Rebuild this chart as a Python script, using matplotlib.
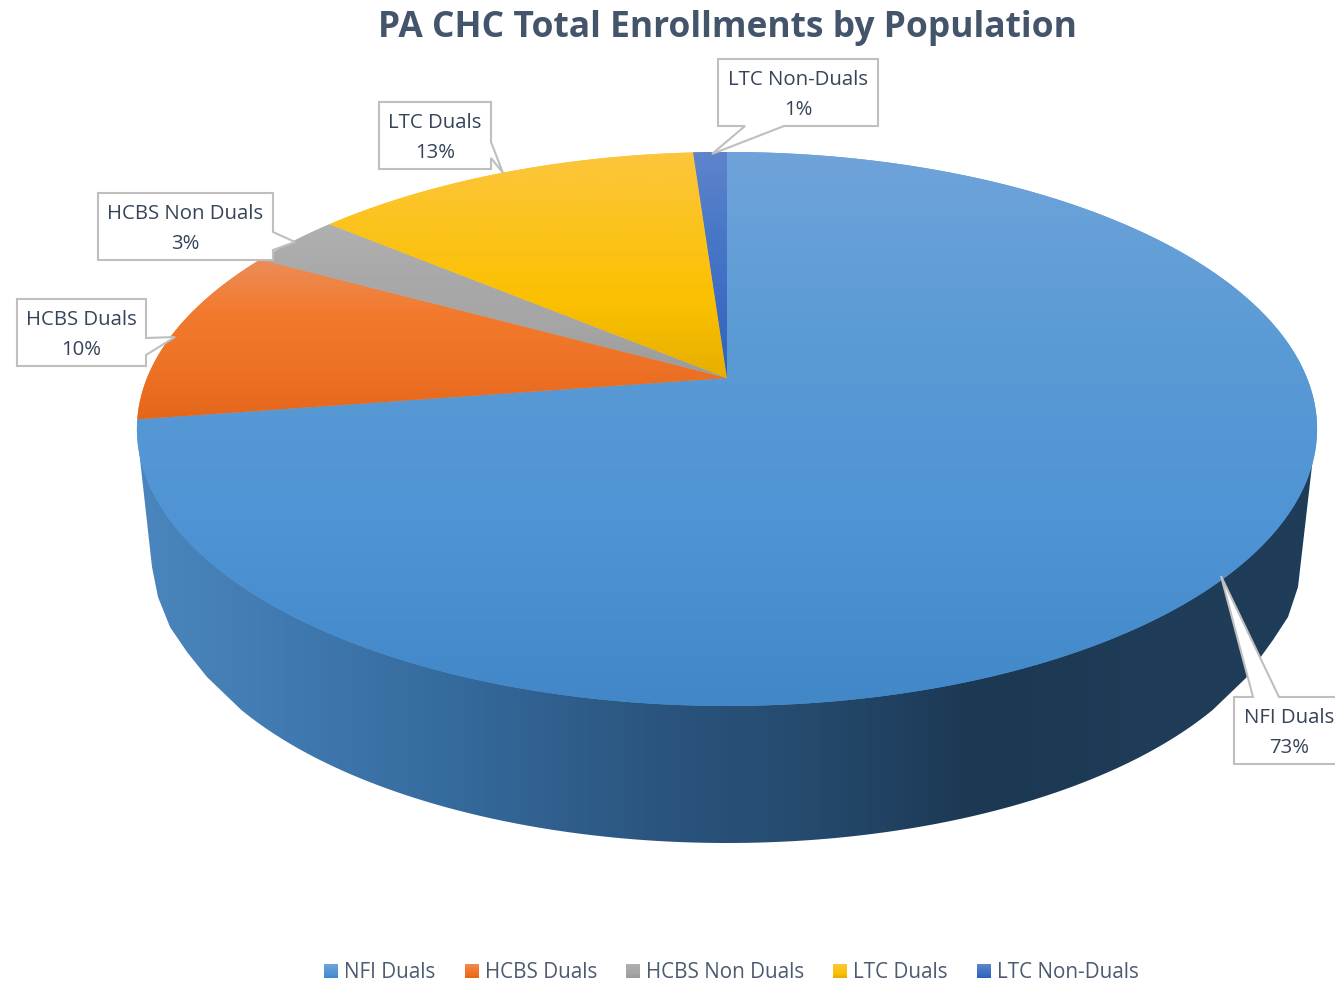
import numpy as np
import matplotlib
matplotlib.use("Agg")
import matplotlib.pyplot as plt
from matplotlib.colors import LinearSegmentedColormap, to_rgb
from matplotlib.patches import Polygon, Rectangle
from matplotlib.legend_handler import HandlerBase

# ---- data ----
categories = ["NFI Duals", "HCBS Duals", "HCBS Non Duals", "LTC Duals", "LTC Non-Duals"]
shares = [72.6, 10.4, 3.1, 12.8, 1.1]
percent_labels = ["73%", "10%", "3%", "13%", "1%"]
title = "PA CHC Total Enrollments by Population"

# ---- style ----
FONT = "Open Sans"
TEXT = "#36445a"
TITLE = "#44546a"
BORDER = "#bfbfbf"
gradients = [
    ["#6fa3da", "#5b9bd5", "#4f94d4", "#4287c8"],
    ["#ec8c58", "#f27a2c", "#ee7226", "#e4661a"],
    ["#b0b0b0", "#a9a9a9", "#a5a5a5", "#9a9a9a"],
    ["#fcc63e", "#fcc31c", "#fbc000", "#e6af00"],
    ["#5f84cc", "#4a78c8", "#3e6cc2", "#2f62bb"],
]
gradient_spans = [(152, 706), (260, 420), (224, 380), (152, 378), (152, 378)]
side_stops = ["#4a86bd", "#3f78ae", "#34689a", "#2b5680", "#254a6e", "#1c3852", "#1f3c58", "#1f3c58"]

# ---- geometry of the tilted disc (pixels) ----
CX, CY = 727.0, 378.0
K = 0.184
A = 267.6
C = 580.0
LOW_CY, LOW_RX, LOW_RY = 578.0, 560.0, 265.0


def rim(theta):
    """theta is clockwise from 12 o'clock, radians."""
    u, v = np.sin(theta), np.cos(theta)
    w = 1 + K * v
    return CX + C * u / w, CY - A * v / w


fig = plt.figure(figsize=(13.35, 9.82), dpi=100, facecolor="white")
ax = fig.add_axes([0, 0, 1, 1])
ax.set_axis_off()

# side wall
t = np.linspace(0, 2 * np.pi, 721)
tx, ty = rim(t)
phi_end = np.arccos(486 / LOW_RX)
phi = np.linspace(np.pi - phi_end, phi_end, 361)
lx = CX + LOW_RX * np.cos(phi)
ly = LOW_CY + LOW_RY * np.sin(phi)
ilr, irr = np.argmax(tx), np.argmin(tx)
left_shoulder = [(tx[irr], ty[irr]), (139, 450), (152, 567), (158, 597), (170, 627), (187, 652), (207, 677), (233, 702)]
right_shoulder = [(1247, 677), (1260, 658), (1273, 640), (1288, 617), (1298, 587), (1313, 457), (tx[ilr], ty[ilr])]
side_xy = np.vstack([left_shoulder, np.column_stack([lx, ly]), right_shoulder])
side_patch = Polygon(side_xy, closed=True, fc="none", ec="none")
ax.add_patch(side_patch)
side_cmap = LinearSegmentedColormap.from_list("side", side_stops)
im = ax.imshow(np.linspace(0, 1, 512)[None, :], cmap=side_cmap, extent=[137, 1317, 860, 420],
               aspect="auto", zorder=1, interpolation="bilinear")
im.set_clip_path(side_patch)

# top slices
start = 0.0
total = sum(shares)
for value, stops, span in zip(shares, gradients, gradient_spans):
    a0 = start / total * 2 * np.pi
    a1 = (start + value) / total * 2 * np.pi
    start += value
    th = np.linspace(a0, a1, max(int(value * 8), 8))
    x, y = rim(th)
    verts = np.vstack([[CX, CY], np.column_stack([x, y]), [CX, CY]])
    patch = Polygon(verts, closed=True, fc=stops[1], ec="none", zorder=2)
    ax.add_patch(patch)
    cmap = LinearSegmentedColormap.from_list("g", stops)
    img = ax.imshow(np.linspace(0, 1, 256)[:, None], cmap=cmap, extent=[100, 1335, span[1], span[0]],
                    aspect="auto", zorder=3, interpolation="bilinear")
    img.set_clip_path(patch)

# callout outlines, in category order
outlines = [
    [(1234, 697), (1253, 697), (1221, 576), (1279, 697), (1345, 697), (1345, 764), (1234, 764)],
    [(17, 299), (146, 299), (146, 338), (175, 337), (146, 355), (146, 366), (17, 366)],
    [(98, 193), (273, 193), (273, 232), (295, 242), (273, 250), (273, 260), (98, 260)],
    [(379, 102), (491, 102), (491, 142), (503, 173), (491, 158), (491, 169), (379, 169)],
    [(718, 59), (878, 59), (878, 126), (784, 126), (712, 154), (745, 126), (718, 126)],
]
label_xy = [(1289, 718, 748), (81, 320, 350), (185, 214, 244), (435, 123, 153), (798, 80, 110)]
for idx, (pts, (lbx, y1, y2)) in enumerate(zip(outlines, label_xy)):
    ax.add_patch(Polygon(pts, closed=True, fc="white", ec=BORDER, lw=1.5, zorder=5, joinstyle="miter"))
    ax.text(lbx, y1, categories[idx], ha="center", va="center", fontsize=14.7, family=FONT, color=TEXT, zorder=6)
    ax.text(lbx, y2, percent_labels[idx], ha="center", va="center", fontsize=14.7, family=FONT, color=TEXT, zorder=6)

ax.set_xlim(0, 1335)
ax.set_ylim(982, 0)

# title
ax.text(727, 28, title, ha="center", va="center", fontsize=25.5, fontweight="bold", family=FONT, color=TITLE, zorder=6)


# legend with gradient swatches
class GradientHandler(HandlerBase):
    def create_artists(self, legend, orig, xd, yd, w, h, fs, trans):
        stops = [to_rgb(c) for c in orig.stops]
        n = 14
        side = 14.0 * 72 / 100
        x0 = -xd
        y0 = -yd + (h - side) / 2
        cmap = LinearSegmentedColormap.from_list("l", stops)
        out = []
        for i in range(n):
            out.append(Rectangle((x0, y0 + side * (n - 1 - i) / n), side, side / n + 0.1,
                                 fc=cmap(i / (n - 1)), ec="none", transform=trans))
        return out


handles = []
for stops, name in zip(gradients, categories):
    h = Rectangle((0, 0), 1, 1, label=name)
    h.stops = stops
    handles.append(h)
leg = ax.legend(handles=handles, loc="center", bbox_to_anchor=(731.5 / 1335, 1 - 973 / 982), ncol=5, frameon=False,
                prop={"family": FONT, "size": 14.85}, labelcolor="#4d5b70", handler_map={Rectangle: GradientHandler()},
                handlelength=0.68, handletextpad=0.29, columnspacing=1.42, borderpad=0, borderaxespad=0)

fig.savefig("out.png", dpi=100)
